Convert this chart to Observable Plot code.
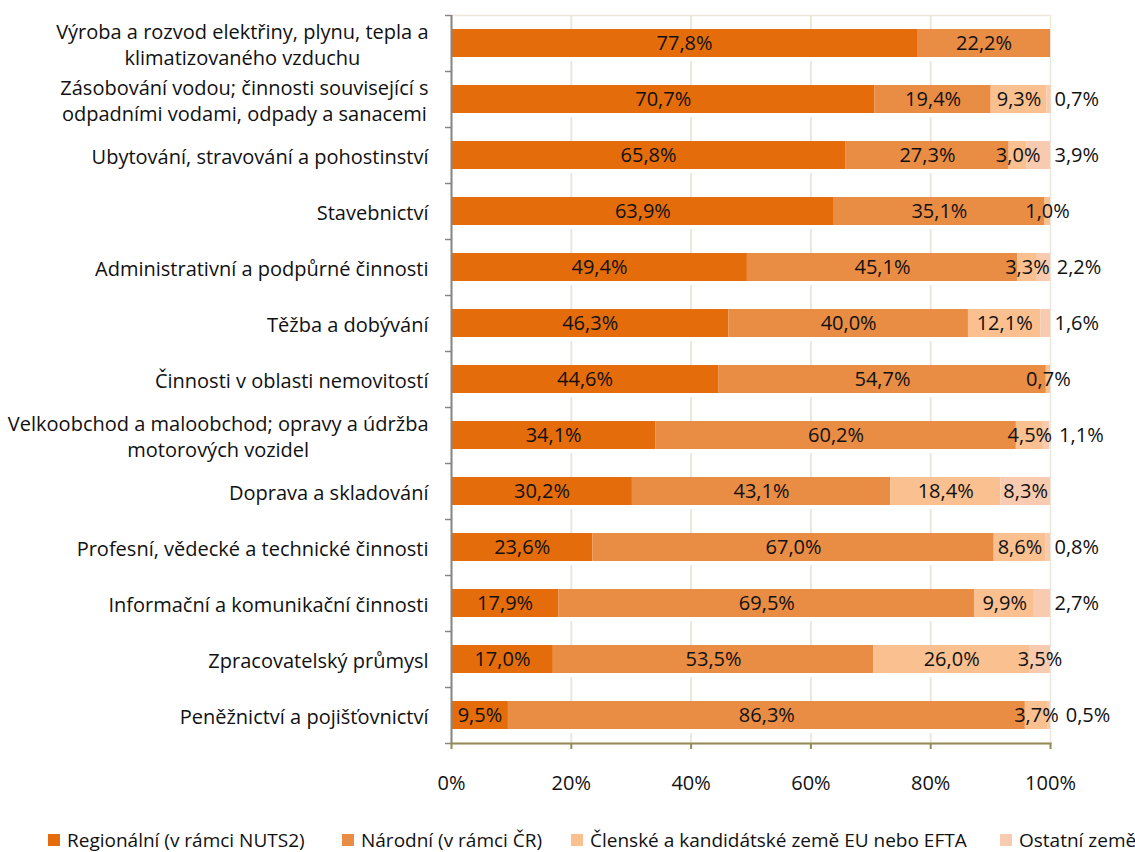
<!DOCTYPE html>
<html><head><meta charset="utf-8">
<script src="https://cdn.jsdelivr.net/npm/d3@7"></script>
<script src="https://cdn.jsdelivr.net/npm/@observablehq/plot@0.6"></script>
<style>
body{margin:0;background:#fff;font-family:"Open Sans",sans-serif;}
#wrap{position:relative;width:1135px;height:852px;overflow:hidden;}
#legend{position:absolute;top:828px;left:0;width:1135px;height:24px;font-size:19px;line-height:24px;color:#111;}
.li{position:absolute;top:0;display:flex;align-items:center;white-space:nowrap;}
.sw{width:12px;height:12px;margin-right:7px;}
</style></head>
<body><div id="wrap"><div id="chart"></div><div id="legend"></div></div>
<script>
const categories = [
  "Výroba a rozvod elektřiny, plynu, tepla a\nklimatizovaného vzduchu",
  "Zásobování vodou; činnosti související s\nodpadními vodami, odpady a sanacemi",
  "Ubytování, stravování a pohostinství",
  "Stavebnictví",
  "Administrativní a podpůrné činnosti",
  "Těžba a dobývání",
  "Činnosti v oblasti nemovitostí",
  "Velkoobchod a maloobchod; opravy a údržba\nmotorových vozidel",
  "Doprava a skladování",
  "Profesní, vědecké a technické činnosti",
  "Informační a komunikační činnosti",
  "Zpracovatelský průmysl",
  "Peněžnictví a pojišťovnictví"
];
const regional = [77.8, 70.7, 65.8, 63.9, 49.4, 46.3, 44.6, 34.1, 30.2, 23.6, 17.9, 17.0, 9.5];
const national = [22.2, 19.4, 27.3, 35.1, 45.1, 40.0, 54.7, 60.2, 43.1, 67.0, 69.5, 53.5, 86.3];
const euEfta   = [null, 9.3, 3.0, 1.0, 3.3, 12.1, 0.7, 4.5, 18.4, 8.6, 9.9, 26.0, 3.7];
const other    = [null, 0.7, 3.9, null, 2.2, 1.6, null, 1.1, 8.3, 0.8, 2.7, 3.5, 0.5];
const seriesNames = ["Regionální (v rámci NUTS2)", "Národní (v rámci ČR)", "Členské a kandidátské země EU  nebo EFTA", "Ostatní země"];
const seriesColors = ["#E46C0A", "#E98C44", "#FAC08F", "#F8CBB0"];
const xTicks = [0, 20, 40, 60, 80, 100];

const FS = 20;
const ctx = document.createElement("canvas").getContext("2d");
ctx.font = `${FS}px "Open Sans"`;
const textWidth = t => Math.max(...t.split("\n").map(l => ctx.measureText(l).width));

const W = 1135, H = 805, ML = 451, MR = 85, MT = 15, MB = 62;
const plotW = W - ML - MR;
const step = (H - MT - MB) / categories.length;

const seriesValues = [regional, national, euEfta, other];
const rows = [];
categories.forEach((cat, i) => {
  let acc = 0;
  let prevEnd = -Infinity;
  seriesValues.forEach((vals, s) => {
    const v = vals[i];
    if (v == null) return;
    const x1 = acc, x2 = acc + v;
    acc = x2;
    const label = v.toFixed(1).replace(".", ",") + "%";
    const mid = (x1 + x2) / 2;
    const outside = s === 3 && (v < 3 || (euEfta[i] || 0) + v < 8);
    // pixel offset from the 100% edge so the outside label clears its neighbour
    const dx = outside ? Math.max(4, prevEnd - plotW + 7) : 0;
    prevEnd = mid / 100 * plotW + textWidth(label) / 2;
    rows.push({cat, series: seriesNames[s], value: v, x1, x2, mid, outside, dx, label});
  });
});

const chart = Plot.plot({
  width: W, height: H,
  marginLeft: ML, marginRight: MR, marginTop: MT, marginBottom: MB,
  style: {fontFamily: "'Open Sans', sans-serif", fontSize: FS + "px", color: "#111", background: "#fff"},
  x: {domain: [0, 100], label: null},
  y: {domain: categories, paddingInner: 0.5, paddingOuter: 0.25, label: null},
  color: {domain: seriesNames, range: seriesColors},
  marks: [
    Plot.frame({stroke: "#ECE7DA", strokeWidth: 1.5}),
    Plot.ruleX(xTicks.slice(1, -1), {stroke: "#ECE7DA", strokeWidth: 2, strokeDasharray: "52,4", strokeDashoffset: 10}),
    Plot.barX(rows, {y: "cat", x1: "x1", x2: "x2", fill: "series"}),
    Plot.text(rows.filter(d => !d.outside), {y: "cat", x: "mid", text: "label", fill: "#111", fontSize: FS}),
    ...rows.filter(d => d.outside).map(r =>
      Plot.text([r], {y: "cat", x: 100, text: "label", textAnchor: "start", dx: r.dx, fill: "#111", fontSize: FS})),
    ...categories.map(c => Plot.text([c], {y: d => d, frameAnchor: "left", text: d => d, textAnchor: "middle",
      dx: -23 - textWidth(c) / 2, lineHeight: 1.3, fill: "#111", fontSize: FS})),
    Plot.axisY({tickSize: 6, tickFormat: () => "", dy: -step / 2, stroke: "#868686", strokeWidth: 1.5}),
    Plot.axisY({ticks: [categories[categories.length - 1]], tickSize: 6, tickFormat: () => "", dy: step / 2, stroke: "#868686", strokeWidth: 1.5}),
    Plot.ruleX([0], {stroke: "#868686", strokeWidth: 2}),
    Plot.frame({anchor: "bottom", stroke: "#948A54", strokeWidth: 2}),
    Plot.axisX({ticks: xTicks, tickFormat: d => d + "%", tickSize: 6, tickPadding: 26, stroke: "#948A54", strokeWidth: 2, fontSize: FS, fill: "#111"})
  ]
});
document.getElementById("chart").appendChild(chart);

const legendPos = [48, 342, 571, 1000];
const legend = document.getElementById("legend");
seriesNames.forEach((n, i) => {
  const d = document.createElement("div");
  d.className = "li";
  d.style.left = legendPos[i] + "px";
  d.innerHTML = `<span class="sw" style="background:${seriesColors[i]}"></span><span>${n}</span>`;
  legend.appendChild(d);
});
</script></body></html>
